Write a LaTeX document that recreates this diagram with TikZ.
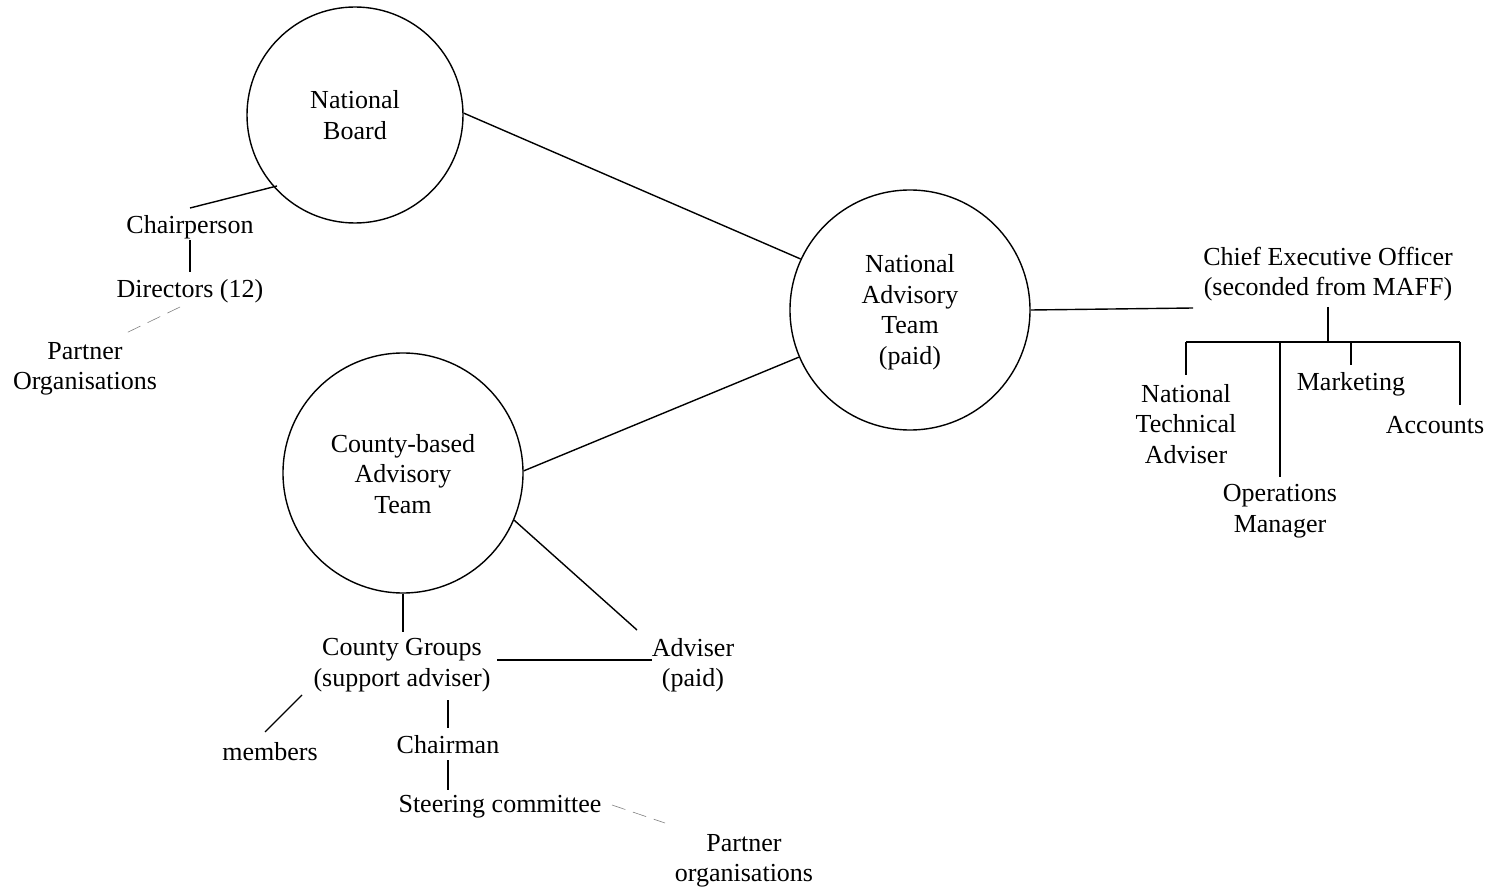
\documentclass[tikz,border=0pt]{standalone}
\usepackage{fontspec}
\setmainfont{Liberation Serif}
\begin{document}
\begin{tikzpicture}[x=1pt,y=-1pt,
  lbl/.style={align=center,inner sep=0pt,yshift=-2pt,font=\fontsize{26}{30.5}\selectfont},
  unit/.style={draw,circle,line width=1.4pt,inner sep=0pt},
  link/.style={line width=1.4pt},
  faint/.style={line width=0.6pt,dash pattern=on 14pt off 8pt,gray}]
\useasboundingbox (0,0) rectangle (1500,890);

% circular units
\node[unit,minimum size=216pt] (nb) at (355,115) {};
\node[lbl] (nbt) at (355,113) {National\\Board};
\node[unit,minimum size=240pt] (nat) at (910,310) {};
\node[lbl] (natt) at (910,310) {National\\Advisory\\Team\\(paid)};
\node[unit,minimum size=240pt] (cbat) at (403,473) {};
\node[lbl] (cbatt) at (403,472) {County-based\\Advisory\\Team};

% national board branch
\node[lbl] (chair) at (190,225) {Chairperson};
\node[lbl] (dir) at (190,289) {Directors (12)};
\node[lbl] (pn1) at (85,367) {Partner\\Organisations};
\coordinate (nbl) at (277,186);
\coordinate (chr) at (190,208);
\draw[link] (nbl) -- (chr);
\draw[link] (190,240) coordinate (c1) -- (190,272) coordinate (c2);
\draw[faint] (180,307) coordinate (d1) -- (122,335) coordinate (d2);

% links between units
\draw[link] (nb.1) -- (nat.155);
\draw[link] (cbat.1) -- (nat.-157);

% chief executive branch
\node[lbl] (ceo) at (1328,272) {Chief Executive Officer\\(seconded from MAFF)};
\draw[link] (nat.east) -- (1193,308) coordinate (ceol);
\coordinate (stem) at (1328,342);
\draw[link] (1328,307) coordinate (ceob) -- (stem);
\draw[link] (1186,342) coordinate (bl) -- (1460,342) coordinate (br);
\node[lbl] (nta) at (1186,422) {National\\Technical\\Adviser};
\node[lbl] (ops) at (1280,509) {Operations\\Manager};
\node[lbl] (mkt) at (1351,382) {Marketing};
\node[lbl] (acc) at (1435,423) {Accounts};
\draw[link] (bl) -- (1186,375);
\draw[link] (1280,342) -- (1280,477);
\draw[link] (1351,342) -- (1351,365);
\draw[link] (br) -- (1460,405);

% county branch
\node[lbl] (cg) at (402,663) {County Groups\\(support adviser)};
\node[lbl] (adv) at (693,663) {Adviser\\(paid)};
\draw[link] (cbat.south) -- (403,632) coordinate (cgt);
\draw[link] (cbat.-23) -- (637,630) coordinate (advt);
\draw[link] (497,660) coordinate (cgr) -- (652,660) coordinate (advl);
\node[lbl] (mem) at (270,750) {members};
\draw[link] (302,695) coordinate (m1) -- (265,732) coordinate (m2);
\node[lbl] (cman) at (448,743) {Chairman};
\draw[link] (448,700) coordinate (cg1) -- (448,728) coordinate (cg2);
\node[lbl] (steer) at (500,805) {Steering committee};
\draw[link] (448,760) coordinate (s1) -- (448,790) coordinate (s2);
\draw[faint] (612,805) coordinate (p1) -- (665,823) coordinate (p2);
\node[lbl] (pn2) at (744,859) {Partner\\organisations};
\end{tikzpicture}
\end{document}
